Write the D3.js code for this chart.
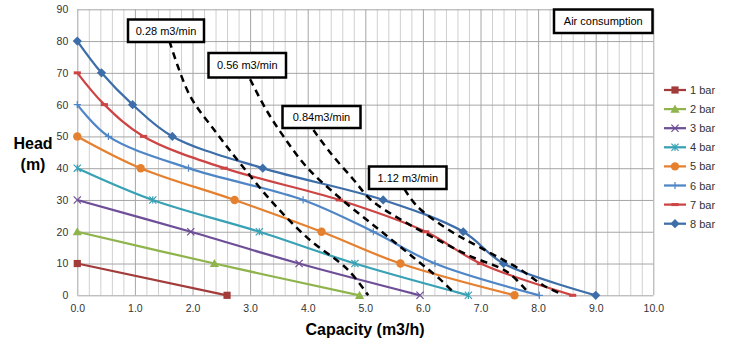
<!DOCTYPE html>
<html>
<head>
<meta charset="utf-8">
<script src="https://cdn.jsdelivr.net/npm/d3@7"></script>
<style>
  body { margin: 0; background: #fff; }
  svg text { font-family: "Liberation Sans", Arial, sans-serif; }
</style>
</head>
<body>
<svg id="chart"></svg>
<script>
// Pump curves: capacity (m3/h) at each head (m), one list per inlet pressure
const bar1 = [[0, 10], [2.6, 0]];
const bar2 = [[0, 20], [2.38, 10], [4.9, 0]];
const bar3 = [[0, 30], [1.97, 20], [3.85, 10], [5.95, 0]];
const bar4 = [[0, 40], [1.31, 30], [3.16, 20], [4.82, 10], [6.79, 0]];
const bar5 = [[0, 50], [1.1, 40], [2.73, 30], [4.24, 20], [5.61, 10], [7.59, 0]];
const bar6 = [[0, 60], [0.54, 50], [1.93, 40], [3.92, 30], [5.14, 20], [6.21, 10], [8.02, 0]];
const bar7 = [[0, 70], [0.47, 60], [1.15, 50], [2.55, 40], [4.55, 30], [6.05, 20], [7.0, 10], [8.6, 0]];
const bar8 = [[0, 80], [0.42, 70], [0.96, 60], [1.65, 50], [3.22, 40], [5.31, 30], [6.7, 20], [7.4, 10], [9.0, 0]];

const seriesNames = ['1 bar', '2 bar', '3 bar', '4 bar', '5 bar', '6 bar', '7 bar', '8 bar'];
const seriesData = [bar1, bar2, bar3, bar4, bar5, bar6, bar7, bar8];

// Air consumption lines
const air028 = [[1.6, 80], [1.95, 63], [2.42, 51], [2.85, 41], [3.4, 29], [4.0, 18], [4.7, 8], [5.05, 0]];
const air056 = [[3.0, 68], [3.26, 59], [3.58, 50], [4.0, 40], [4.6, 30], [5.25, 20.5], [5.83, 12], [6.3, 5], [6.5, 1.5]];
const air084 = [[4.1, 52], [4.4, 44.7], [4.8, 36.3], [5.1, 30], [5.6, 24], [6.2, 18], [6.8, 12.5], [7.46, 7.4], [7.8, 1.5]];
const air112 = [[5.68, 33.4], [5.9, 28], [6.5, 20], [7.0, 15], [7.7, 8], [8.1, 3], [8.4, 0.5]];
const airLabels = ['0.28 m3/min', '0.56 m3/min', '0.84m3/min', '1.12 m3/min'];
const airData = [air028, air056, air084, air112];

const xTicks = [0, 1, 2, 3, 4, 5, 6, 7, 8, 9, 10];
const yTicks = [0, 10, 20, 30, 40, 50, 60, 70, 80, 90];

const width = 729, height = 352;
const colors = ['#A33B3B', '#8EB44B', '#6D4E97', '#37A1B5', '#E5802F', '#4F86C6', '#CC4444', '#3D6EA9'];
const markers = ['square', 'triangle', 'x', 'asterisk', 'circle', 'plus', 'dash', 'diamond'];

const svg = d3.select('#chart').attr('width', width).attr('height', height);

const x = d3.scaleLinear().domain([0, 10]).range([77.3, 653.3]);
const y = d3.scaleLinear().domain([0, 90]).range([295.3, 9.3]);

// Minor vertical grid every 0.2
svg.append('g')
    .attr('transform', `translate(0,${y(0)})`)
    .call(d3.axisBottom(x).tickValues(d3.range(0, 50).filter(i => i % 5 !== 0).map(i => i / 5))
        .tickSize(-(y(0) - y(90))).tickFormat(''))
    .call(g => g.select('.domain').remove())
    .selectAll('line').attr('stroke', '#d0d0d0').attr('stroke-width', 1);

// Major grid
svg.append('g')
    .attr('transform', `translate(0,${y(0)})`)
    .call(d3.axisBottom(x).tickValues(xTicks).tickSize(-(y(0) - y(90))).tickFormat(''))
    .call(g => g.select('.domain').remove())
    .selectAll('line').attr('stroke', '#a6a6a6').attr('stroke-width', 1);

svg.append('g')
    .attr('transform', `translate(${x(0)},0)`)
    .call(d3.axisLeft(y).tickValues(yTicks).tickSize(-(x(10) - x(0))).tickFormat(''))
    .call(g => g.select('.domain').remove())
    .selectAll('line').attr('stroke', '#a6a6a6').attr('stroke-width', 1);

// Tick labels
svg.append('g')
    .attr('transform', `translate(0,${y(0)})`)
    .call(d3.axisBottom(x).tickValues(xTicks).tickSize(0).tickPadding(9).tickFormat(d3.format('.1f')))
    .call(g => g.select('.domain').remove())
    .selectAll('text').attr('font-size', 10.5).attr('fill', '#333');

svg.append('g')
    .attr('transform', `translate(${x(0)},0)`)
    .call(d3.axisLeft(y).tickValues(yTicks).tickSize(0).tickPadding(9))
    .call(g => g.select('.domain').remove())
    .selectAll('text').attr('font-size', 10.5).attr('fill', '#333');

// Series lines
const line = d3.line().x(d => x(d[0])).y(d => y(d[1])).curve(d3.curveCatmullRom.alpha(0.5));

function drawMarker(g, type, color) {
    const s = 3.6;
    if (type === 'square') {
        g.append('rect').attr('x', -s).attr('y', -s).attr('width', 2 * s).attr('height', 2 * s).attr('fill', color);
    } else if (type === 'triangle') {
        g.append('path').attr('d', `M0,${-s - 1}L${s + 1},${s}L${-s - 1},${s}Z`).attr('fill', color);
    } else if (type === 'circle') {
        g.append('circle').attr('r', s + 0.6).attr('fill', color);
    } else if (type === 'diamond') {
        g.append('path').attr('d', `M0,${-s - 1}L${s + 1},0L0,${s + 1}L${-s - 1},0Z`).attr('fill', color);
    } else if (type === 'x') {
        g.append('path').attr('d', `M${-s},${-s}L${s},${s}M${-s},${s}L${s},${-s}`).attr('stroke', color).attr('stroke-width', 1.2);
    } else if (type === 'asterisk') {
        g.append('path').attr('d', `M${-s},${-s}L${s},${s}M${-s},${s}L${s},${-s}M0,${-s}L0,${s}`).attr('stroke', color).attr('stroke-width', 1.2);
    } else if (type === 'plus') {
        g.append('path').attr('d', `M${-s},0L${s},0M0,${-s}L0,${s}`).attr('stroke', color).attr('stroke-width', 1.2);
    } else if (type === 'dash') {
        g.append('rect').attr('x', -s).attr('y', -1.5).attr('width', 2 * s).attr('height', 3).attr('fill', color);
    }
}

seriesData.forEach((data, i) => {
    const g = svg.append('g');
    g.append('path')
        .datum(data)
        .attr('d', line)
        .attr('fill', 'none')
        .attr('stroke', colors[i])
        .attr('stroke-width', 2.25);
    g.selectAll('.mk')
        .data(data)
        .enter()
        .append('g')
        .attr('transform', d => `translate(${x(d[0])},${y(d[1])})`)
        .each(function () { drawMarker(d3.select(this), markers[i], colors[i]); });
});

// Air consumption dashed lines
airData.forEach(data => {
    svg.append('path')
        .datum(data)
        .attr('d', line)
        .attr('fill', 'none')
        .attr('stroke', '#000')
        .attr('stroke-width', 2.5)
        .attr('stroke-dasharray', '7,5');
});

// Label boxes
const boxes = [
    { text: airLabels[0], x0: 128, y0: 19.5, x1: 204, y1: 42 },
    { text: airLabels[1], x0: 208.5, y0: 53, x1: 286, y1: 77.5 },
    { text: airLabels[2], x0: 282.5, y0: 106, x1: 360.5, y1: 128 },
    { text: airLabels[3], x0: 369, y0: 166.5, x1: 446.5, y1: 189 },
    { text: 'Air consumption', x0: 554, y0: 9.5, x1: 652.5, y1: 33 }
];
boxes.forEach(b => {
    svg.append('rect')
        .attr('x', b.x0).attr('y', b.y0)
        .attr('width', b.x1 - b.x0).attr('height', b.y1 - b.y0)
        .attr('fill', '#fff').attr('stroke', '#000').attr('stroke-width', 2.5);
    svg.append('text')
        .attr('x', (b.x0 + b.x1) / 2).attr('y', (b.y0 + b.y1) / 2 + 4)
        .attr('text-anchor', 'middle')
        .attr('font-size', 11)
        .attr('fill', '#000')
        .text(b.text);
});

// Legend
const legend = svg.append('g');
seriesNames.forEach((name, i) => {
    const ly = 90 + i * 19.1;
    const g = legend.append('g').attr('transform', `translate(0,${ly})`);
    g.append('line').attr('x1', 664).attr('x2', 686).attr('y1', 0).attr('y2', 0)
        .attr('stroke', colors[i]).attr('stroke-width', 2.25);
    drawMarker(g.append('g').attr('transform', 'translate(675,0)'), markers[i], colors[i]);
    g.append('text').attr('x', 690).attr('y', 4).attr('font-size', 11).attr('fill', '#333').text(name);
});

// Axis titles
svg.append('text').attr('x', 33).attr('y', 149).attr('text-anchor', 'middle')
    .attr('font-size', 16).attr('font-weight', 'bold').attr('fill', '#000').text('Head');
svg.append('text').attr('x', 33).attr('y', 170).attr('text-anchor', 'middle')
    .attr('font-size', 16).attr('font-weight', 'bold').attr('fill', '#000').text('(m)');
svg.append('text').attr('x', 365).attr('y', 335).attr('text-anchor', 'middle')
    .attr('font-size', 16).attr('font-weight', 'bold').attr('fill', '#000').text('Capacity (m3/h)');
</script>
</body>
</html>
